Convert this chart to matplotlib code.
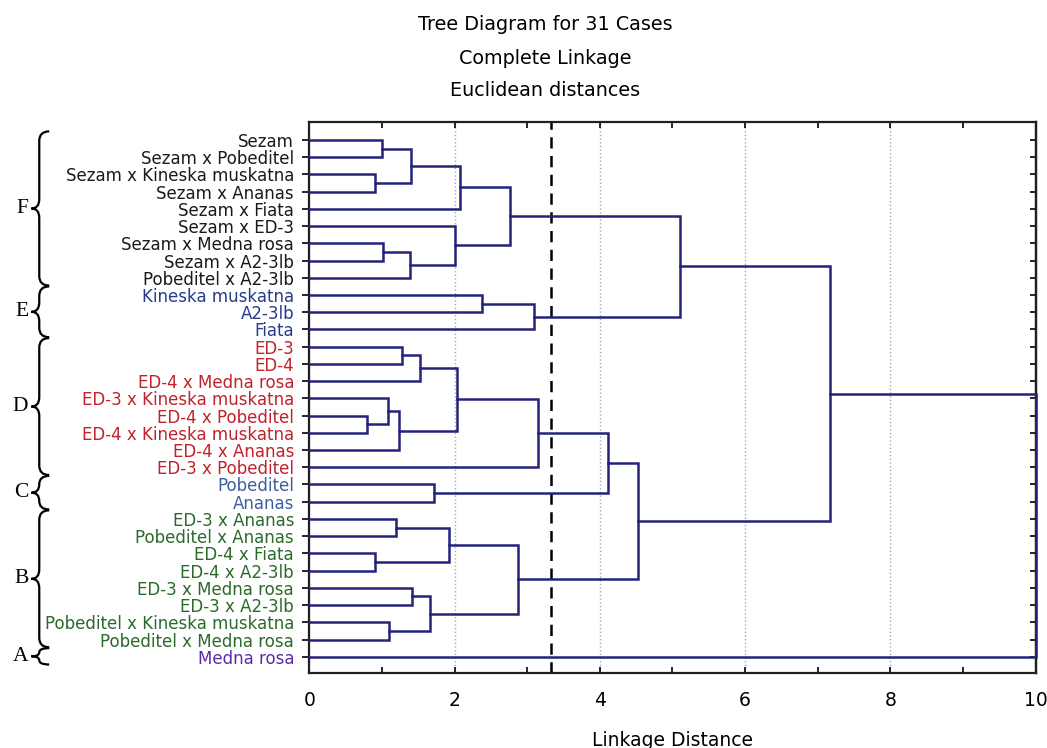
import matplotlib
matplotlib.use("Agg")
import matplotlib.pyplot as plt
import matplotlib.transforms as mtransforms
from matplotlib.path import Path
from matplotlib.patches import PathPatch

# leaf order, top to bottom
labels = [
    "Sezam", "Sezam x Pobeditel", "Sezam x Kineska muskatna", "Sezam x Ananas",
    "Sezam x Fiata", "Sezam x ED-3", "Sezam x Medna rosa", "Sezam x A2-3lb",
    "Pobeditel x A2-3lb",
    "Kineska muskatna", "A2-3lb", "Fiata",
    "ED-3", "ED-4", "ED-4 x Medna rosa", "ED-3 x Kineska muskatna",
    "ED-4 x Pobeditel", "ED-4 x Kineska muskatna", "ED-4 x Ananas", "ED-3 x Pobeditel",
    "Pobeditel", "Ananas",
    "ED-3 x Ananas", "Pobeditel x Ananas", "ED-4 x Fiata", "ED-4 x A2-3lb",
    "ED-3 x Medna rosa", "ED-3 x A2-3lb", "Pobeditel x Kineska muskatna",
    "Pobeditel x Medna rosa",
    "Medna rosa",
]

# groups: (letter, first leaf, last leaf)
group_names = ["F", "E", "D", "C", "B", "A"]
group_first = [0, 9, 12, 20, 22, 30]
group_last = [8, 11, 19, 21, 29, 30]
group_colors = ["#1a1a1a", "#2a3a8a", "#c0232b", "#3c5fa0", "#2b6a2b", "#5a2ca8"]

# merges: (node a, node b, linkage distance); leaves are 0..30, new nodes numbered from 31
merges = [
    (0, 1, 1.00), (2, 3, 0.91), (31, 32, 1.40), (33, 4, 2.07),
    (6, 7, 1.02), (35, 8, 1.38), (5, 36, 2.01), (34, 37, 2.76),
    (9, 10, 2.38), (39, 11, 3.09), (38, 40, 5.10),
    (12, 13, 1.27), (42, 14, 1.52), (16, 17, 0.80), (15, 44, 1.08),
    (45, 18, 1.24), (43, 46, 2.04), (47, 19, 3.15),
    (20, 21, 1.72), (48, 49, 4.11),
    (22, 23, 1.19), (24, 25, 0.91), (51, 52, 1.93), (26, 27, 1.41),
    (28, 29, 1.10), (54, 55, 1.66), (53, 56, 2.87),
    (50, 57, 4.53), (41, 58, 7.17), (59, 30, 10.0),
]
cut_distance = 3.33

line_color = "#23237a"
n = len(labels)

fig = plt.figure(figsize=(10.47, 7.48), dpi=100)
ax = fig.add_axes([0.2954, 0.0999, 0.6938, 0.737])

# tree
ypos = {i: float(i) for i in range(n)}
xpos = {i: 0.0 for i in range(n)}
for k, (a, b, h) in enumerate(merges):
    ya, yb = ypos[a], ypos[b]
    ax.plot([xpos[a], h, h, xpos[b]], [ya, ya, yb, yb], color=line_color,
            lw=1.8, solid_joinstyle="miter", clip_on=False, zorder=3)
    ypos[n + k] = (ya + yb) / 2
    xpos[n + k] = h

ax.axvline(cut_distance, color="black", lw=1.8, ls=(0, (4.5, 3)), zorder=2)

ax.set_xlim(0, 10)
ax.set_ylim(30.96, -1.045)

ax.set_xticks(range(0, 11, 2))
ax.set_xticks(range(1, 10, 2), minor=True)
ax.tick_params(axis="x", which="both", direction="in", top=True, bottom=True,
               length=4, width=1.2, pad=13, labelsize=13.5)
ax.grid(axis="x", which="major", ls=":", color="#a8a8a8", lw=1)

ax.set_yticks(range(n))
ax.set_yticklabels(labels, fontsize=12)
ax.tick_params(axis="y", direction="out", length=5, width=1.2, pad=6)
for g, color in enumerate(group_colors):
    for i in range(group_first[g], group_last[g] + 1):
        ax.get_yticklabels()[i].set_color(color)

right = ax.secondary_yaxis("right")
right.set_yticks(range(n))
right.tick_params(direction="in", length=4, width=1.2, labelright=False)
right.spines["right"].set_linewidth(1.6)

for s in ax.spines.values():
    s.set_linewidth(1.6)
    s.set_color("#202020")

# titles
fig.text(0.521, 1 - 24 / 748, "Tree Diagram for 31 Cases", ha="center", va="center", fontsize=13.8)
fig.text(0.521, 1 - 58 / 748, "Complete Linkage", ha="center", va="center", fontsize=13.8)
fig.text(0.521, 1 - 91 / 748, "Euclidean distances", ha="center", va="center", fontsize=13.8)
fig.text(0.6425, 1 - 740 / 748, "Linkage Distance", ha="center", va="center", fontsize=13.5)

# group braces on the left
trans = mtransforms.blended_transform_factory(fig.transFigure, ax.transData)
xs, xe, xt = 0.0375, 0.047, 0.0300
for g, name in enumerate(group_names):
    y0 = group_first[g] - 0.5
    y1 = group_last[g] + 0.45
    ym = (y0 + y1) / 2
    r = min(0.55, (y1 - y0) / 4)
    verts = [(xe, y0), (xs, y0), (xs, y0 + r),
             (xs, ym - r), (xs, ym), (xt, ym),
             (xs, ym), (xs, ym + r),
             (xs, y1 - r), (xs, y1), (xe, y1)]
    codes = [Path.MOVETO, Path.CURVE3, Path.CURVE3,
             Path.LINETO, Path.CURVE3, Path.CURVE3,
             Path.CURVE3, Path.CURVE3,
             Path.LINETO, Path.CURVE3, Path.CURVE3]
    fig.add_artist(PathPatch(Path(verts, codes), transform=trans, fill=False,
                             lw=1.6, color="black", clip_on=False))
    fig.text(0.027, 0, name, transform=trans, ha="right", va="center",
             fontsize=15.5, family="Liberation Serif").set_y(ym)

fig.savefig("out.png", dpi=100)
